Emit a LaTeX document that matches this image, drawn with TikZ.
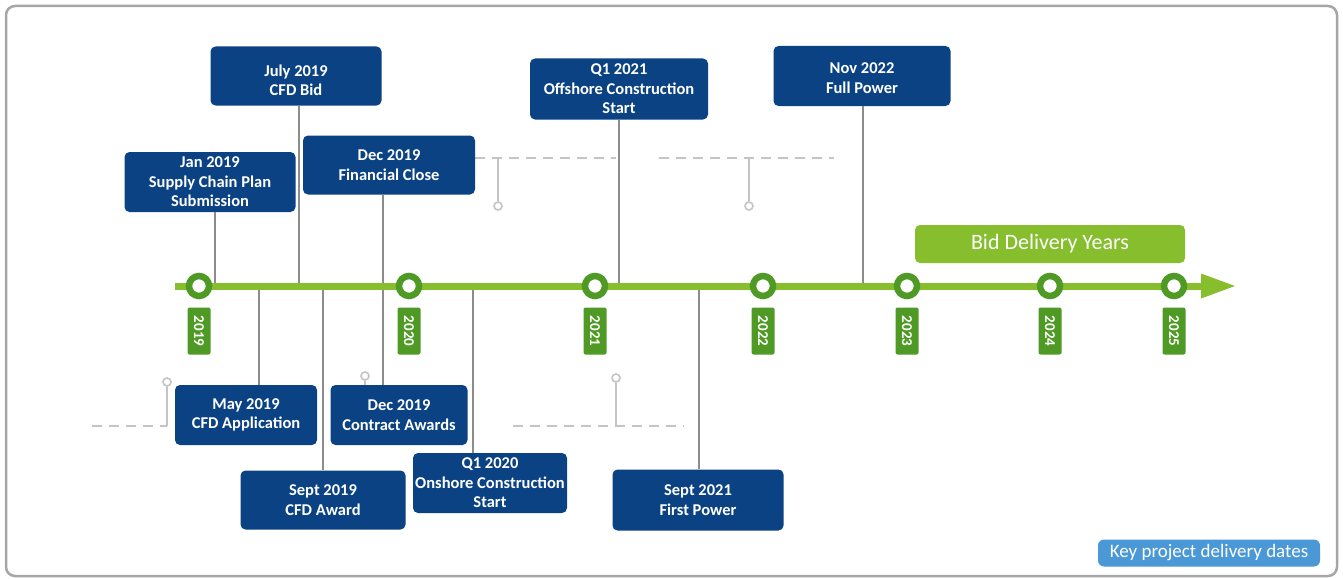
\documentclass[tikz,border=0pt]{standalone}
\usepackage{fontspec}
\setmainfont{Carlito}
\definecolor{navy}{HTML}{0B4283}
\definecolor{lgreen}{HTML}{86BE2E}
\definecolor{dgreen}{HTML}{4E9A25}
\definecolor{kblue}{HTML}{4A98D6}
\definecolor{framegray}{HTML}{A6A6A6}
\definecolor{decogray}{HTML}{C4C4C4}
\definecolor{conngray}{HTML}{8C8C8C}
\begin{document}
\begin{tikzpicture}[x=1pt,y=-1pt,
  event/.style={fill=navy, rounded corners=5pt, text=white,
    font=\bfseries\fontsize{16.5}{19.5}\selectfont, align=center, inner sep=0pt},
  eventtext/.style={text=white, font=\bfseries\fontsize{16.5}{19.5}\selectfont,
    align=center, inner sep=0pt},
  yeartag/.style={fill=dgreen, rounded corners=2pt, text=white,
    font=\bfseries\fontsize{15}{17}\selectfont, inner sep=0pt,
    minimum width=47, minimum height=23, rotate=-90},
  yearmark/.style={circle, draw=dgreen, line width=6.5pt, fill=white,
    minimum size=20, inner sep=0pt},
  connline/.style={draw=conngray, line width=2pt},
  decoline/.style={draw=decogray, line width=2.5pt, dash pattern=on 10pt off 7pt},
  decostem/.style={draw=decogray, line width=1.8pt},
  decodot/.style={circle, draw=decogray, line width=1.6pt, fill=white,
    minimum size=8, inner sep=0pt},
]
\useasboundingbox (0,0) rectangle (1343,578);
% frame
\node[draw=framegray, line width=2.5pt, rounded corners=9pt, minimum width=1331,
  minimum height=570, inner sep=0pt] (frame) at (671.5,291) {};

% decorative dashed leaders
\coordinate (d1a) at (475,158); \coordinate (d1b) at (616,158);
\coordinate (d1s) at (498,158);
\node[decodot] (d1dot) at (498,206) {};
\draw[decoline] (d1a) -- (d1b);
\draw[decostem] (d1s) -- (d1dot);

\coordinate (d2a) at (659,158); \coordinate (d2b) at (834,158);
\coordinate (d2s) at (749,158);
\node[decodot] (d2dot) at (749,206) {};
\draw[decoline] (d2a) -- (d2b);
\draw[decostem] (d2s) -- (d2dot);

\coordinate (d3a) at (92,426); \coordinate (d3b) at (167,426);
\node[decodot] (d3dot) at (167,382) {};
\draw[decoline] (d3a) -- (d3b);
\draw[decostem] (d3b) -- (d3dot);

\coordinate (d4s) at (365,386);
\node[decodot] (d4dot) at (365,376) {};
\draw[decostem] (d4dot) -- (d4s);

\coordinate (d5a) at (513,426); \coordinate (d5b) at (684,426);
\coordinate (d5s) at (616,426);
\node[decodot] (d5dot) at (616,378) {};
\draw[decoline] (d5a) -- (d5b);
\draw[decostem] (d5s) -- (d5dot);

% event boxes
\node[event, minimum width=171, minimum height=59] (jul19) at (296,76) {};
\node[eventtext] (jul19t) at ([yshift=-4.5pt]jul19.center) {July 2019\\CFD Bid};
\node[event, minimum width=171, minimum height=60] (jan19) at (210,182) {Jan 2019\\Supply Chain Plan\\Submission};
\node[event, minimum width=172, minimum height=59] (dec19f) at (389,165) {Dec 2019\\Financial Close};
\node[event, minimum width=178, minimum height=61] (q121) at (619,89) {Q1 2021\\Offshore Construction\\Start};
\node[event, minimum width=177, minimum height=60] (nov22) at (862,76) {};
\node[eventtext] (nov22t) at ([yshift=-2pt]nov22.center) {Nov 2022\\Full Power};

\node[event, minimum width=142, minimum height=60] (may19) at (246,415) {May 2019\\CFD Application};
\node[event, minimum width=137, minimum height=60] (dec19c) at (399,415) {Dec 2019\\Contract Awards};
\node[event, minimum width=165, minimum height=59] (sep19) at (323,500) {Sept 2019\\CFD Award};
\node[event, minimum width=154, minimum height=60] (q120) at (490,483) {Q1 2020\\Onshore Construction\\Start};
\node[event, minimum width=171, minimum height=61] (sep21) at (698,500) {Sept 2021\\First Power};

% connector anchor points on the timeline
\coordinate (t1) at (215,286);
\coordinate (t2) at (299,286);
\coordinate (t3) at (383,286);
\coordinate (t4) at (619,286);
\coordinate (t5) at (863,286);
\coordinate (b1) at (259,286);
\coordinate (b2) at (383,286);
\coordinate (b3) at (323,286);
\coordinate (b4) at (473,286);
\coordinate (b5) at (699,286);

\draw[connline] (jan19.south -| t1) -- (t1);
\draw[connline] (jul19.south -| t2) -- (t2);
\draw[connline] (dec19f.south -| t3) -- (t3);
\draw[connline] (q121.south -| t4) -- (t4);
\draw[connline] (nov22.south -| t5) -- (t5);
\draw[connline] (b1) -- (may19.north -| b1);
\draw[connline] (b2) -- (dec19c.north -| b2);
\draw[connline] (b3) -- (sep19.north -| b3);
\draw[connline] (b4) -- (q120.north -| b4);
\draw[connline] (b5) -- (sep21.north -| b5);

% timeline
\coordinate (tlstart) at (175,286);
\coordinate (tlbase) at (1201,286);
\coordinate (tltip) at (1235,286);
\draw[lgreen, line width=7pt] (tlstart) -- (tlbase);
\fill[lgreen] (tltip) -- ([yshift=-12.5pt]tlbase) -- ([yshift=12.5pt]tlbase) -- cycle;

% year markers and tags
\foreach \yr/\xx in {2019/199, 2020/409, 2021/595, 2022/763, 2023/907, 2024/1050, 2025/1174} {
  \node[yearmark] (m\yr) at (\xx,286) {};
  \node[yeartag] (y\yr) at (\xx,331) {\yr};
}

% bid delivery years
\node[fill=lgreen, rounded corners=5pt, text=white, minimum width=270,
  minimum height=38, inner sep=0pt, font=\fontsize{22}{24}\selectfont]
  (bid) at (1050,244) {Bid Delivery Years};

% key
\node[fill=kblue, rounded corners=6pt, text=white, minimum width=222,
  minimum height=27, inner sep=0pt, font=\fontsize{19}{21}\selectfont]
  (key) at (1209,553) {Key project delivery dates};
\end{tikzpicture}
\end{document}
